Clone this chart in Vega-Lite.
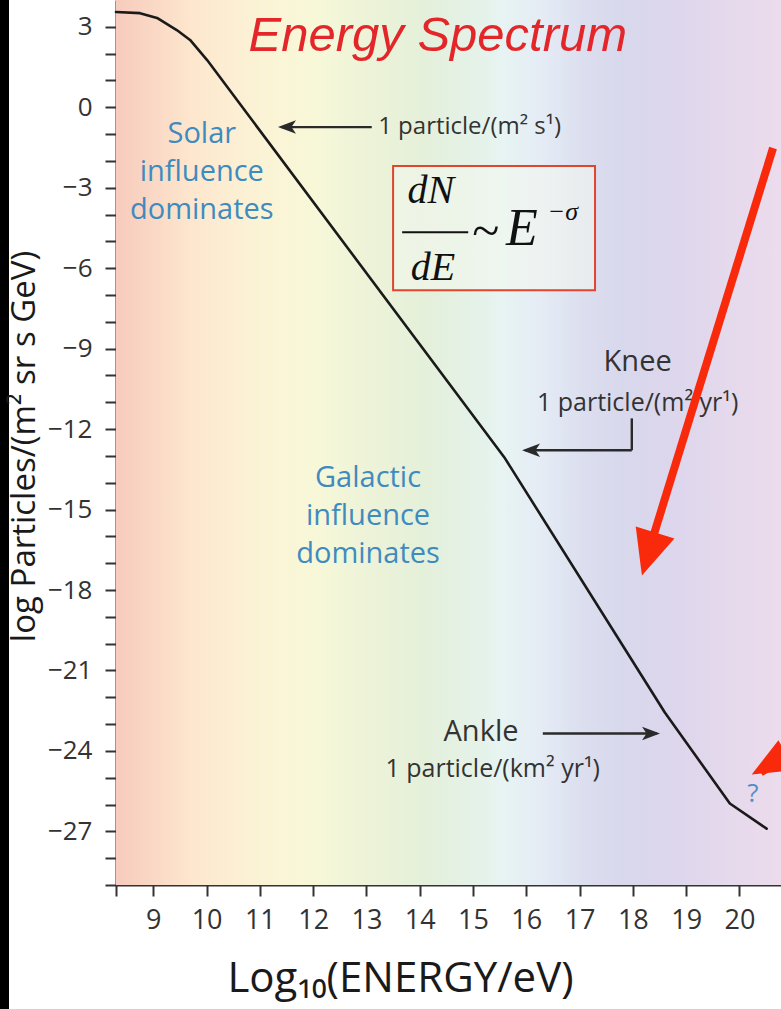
{
  "$schema": "https://vega.github.io/schema/vega-lite/v6.json",
  "autosize": {"type": "pad"},
  "padding": 0,
  "background": "white",
  "spacing": 107,
  "bounds": "flush",
  "config": {"view": {"stroke": null}, "font": "Open Sans"},
  "datasets": {
    "spectrum": [
      {"x": 8.3, "y": 3.55}, {"x": 8.75, "y": 3.51}, {"x": 9.07, "y": 3.33},
      {"x": 9.44, "y": 2.88}, {"x": 9.69, "y": 2.51}, {"x": 10.01, "y": 1.76},
      {"x": 15.6, "y": -13.09}, {"x": 18.6, "y": -22.57}, {"x": 19.82, "y": -25.96},
      {"x": 20.51, "y": -26.9}
    ],
    "pointers": [
      {"x": 13.1, "y": -0.74, "x2": 11.4, "y2": -0.74},
      {"x": 17.98, "y": -11.6, "x2": 17.98, "y2": -12.79},
      {"x": 17.98, "y": -12.79, "x2": 15.98, "y2": -12.79},
      {"x": 16.31, "y": -23.35, "x2": 18.45, "y2": -23.35}
    ],
    "headsLeft": [{"x": 11.34, "y": -0.74}, {"x": 15.92, "y": -12.79}],
    "headsRight": [{"x": 18.51, "y": -23.35}],
    "formulaBox": [{"x": 13.5, "x2": 17.29, "y": -2.19, "y2": -6.82}],
    "fractionBar": [{"x": 13.67, "x2": 14.91, "y": -4.66}],
    "redShafts": [
      {"x": 20.63, "y": -1.52, "x2": 18.36, "y2": -16.15},
      {"x": 21.2, "y": -23.9, "x2": 20.4, "y2": -24.8}
    ]
  },
  "hconcat": [
    {
      "width": 9,
      "height": 1009,
      "data": {"values": [{}]},
      "mark": {"type": "rect", "color": "#000000"},
      "encoding": {
        "x": {"value": 0},
        "x2": {"value": "width"},
        "y": {"value": 0},
        "y2": {"value": "height"}
      }
    },
    {
      "width": 665,
      "height": 885,
      "encoding": {
        "x": {
          "field": "x",
          "type": "quantitative",
          "scale": {"domain": [8.3, 20.78], "nice": false, "zero": false},
          "axis": {
            "title": "Log₁₀(ENERGY/eV)",
            "values": [8.3, 9, 10, 11, 12, 13, 14, 15, 16, 17, 18, 19, 20],
            "labelExpr": "datum.value < 8.5 ? '' : datum.label",
            "format": "d",
            "grid": false,
            "domainColor": "#333333",
            "domainWidth": 2,
            "tickColor": "#333333",
            "tickWidth": 2,
            "tickSize": 11,
            "labelFont": "Open Sans",
            "labelFontSize": 27,
            "labelColor": "#333333",
            "labelPadding": 11,
            "labelFlush": false,
            "labelOverlap": false,
            "titleFont": "Open Sans",
            "titleFontSize": 42,
            "titleFontWeight": "normal",
            "titleColor": "#1a1a1a",
            "titleX": 284,
            "titleY": 106,
            "titleAlign": "center",
            "titleBaseline": "alphabetic"
          }
        },
        "y": {
          "field": "y",
          "type": "quantitative",
          "scale": {"domain": [-29, 4], "nice": false, "zero": false},
          "axis": {
            "title": "log Particles/(m² sr s GeV)",
            "values": [-29, -28, -27, -26, -25, -24, -23, -22, -21, -20, -19, -18, -17, -16, -15, -14, -13, -12, -11, -10, -9, -8, -7, -6, -5, -4, -3, -2, -1, 0, 1, 2, 3],
            "labelExpr": "datum.value % 3 === 0 ? datum.label : ''",
            "format": "d",
            "grid": false,
            "domainColor": "#333333",
            "domainWidth": 2,
            "tickColor": "#333333",
            "tickWidth": 2,
            "tickSize": 11,
            "labelFont": "Open Sans",
            "labelFontSize": 26,
            "labelColor": "#333333",
            "labelPadding": 13,
            "labelFlush": false,
            "labelOverlap": false,
            "titleFont": "Open Sans",
            "titleFontSize": 33,
            "titleFontWeight": "normal",
            "titleColor": "#1a1a1a",
            "titleX": -92,
            "titleY": 446,
            "titleAngle": 270,
            "titleAlign": "center",
            "titleBaseline": "middle"
          }
        }
      },
      "layer": [
        {
          "data": {"values": [{}]},
          "mark": {
            "type": "rect",
            "color": {
              "gradient": "linear",
              "x1": 0, "y1": 0, "x2": 1, "y2": 0,
              "stops": [
                {"offset": 0, "color": "#f7cbbd"},
                {"offset": 0.06, "color": "#fad9c6"},
                {"offset": 0.11, "color": "#fde6cd"},
                {"offset": 0.18, "color": "#fcefd3"},
                {"offset": 0.24, "color": "#faf5d6"},
                {"offset": 0.3, "color": "#f7f8d8"},
                {"offset": 0.38, "color": "#edf3d8"},
                {"offset": 0.46, "color": "#e5f0da"},
                {"offset": 0.54, "color": "#e4f2e8"},
                {"offset": 0.58, "color": "#e7f4f2"},
                {"offset": 0.64, "color": "#e5ecf5"},
                {"offset": 0.7, "color": "#dcdfef"},
                {"offset": 0.76, "color": "#d8d8ec"},
                {"offset": 0.84, "color": "#ddd6ec"},
                {"offset": 0.92, "color": "#e5d9ec"},
                {"offset": 1, "color": "#ecdcec"}
              ]
            }
          },
          "encoding": {
            "x": {"value": 0},
            "x2": {"value": "width"},
            "y": {"value": 0},
            "y2": {"value": "height"}
          }
        },
        {
          "data": {"name": "formulaBox"},
          "mark": {"type": "rect", "fill": "#f4f7ee", "fillOpacity": 0.55, "stroke": "#e0452e", "strokeWidth": 2},
          "encoding": {"x2": {"field": "x2"}, "y2": {"field": "y2"}}
        },
        {
          "data": {"name": "fractionBar"},
          "mark": {"type": "rule", "color": "#111111", "strokeWidth": 2},
          "encoding": {"x2": {"field": "x2"}}
        },
        {
          "data": {"name": "spectrum"},
          "mark": {"type": "line", "color": "#1a1a1a", "strokeWidth": 2.6, "strokeJoin": "round", "strokeCap": "round"},
          "encoding": {}
        },
        {
          "data": {"name": "pointers"},
          "mark": {"type": "rule", "color": "#2a2a2a", "strokeWidth": 2.4},
          "encoding": {"x2": {"field": "x2"}, "y2": {"field": "y2"}}
        },
        {
          "data": {"name": "headsLeft"},
          "mark": {"type": "point", "shape": "M0,0L2,-0.75L1.5,0L2,0.75Z", "size": 324, "filled": true, "color": "#2a2a2a", "opacity": 1},
          "encoding": {}
        },
        {
          "data": {"name": "headsRight"},
          "mark": {"type": "point", "shape": "M0,0L-2,-0.75L-1.5,0L-2,0.75Z", "size": 324, "filled": true, "color": "#2a2a2a", "opacity": 1},
          "encoding": {}
        },
        {
          "data": {"values": [{"x": 14.34, "y": 2.1, "text": "Energy Spectrum"}]},
          "mark": {"type": "text", "font": "Liberation Sans", "fontStyle": "italic", "fontSize": 49, "color": "#e3262a", "align": "center", "baseline": "alphabetic"},
          "encoding": {"text": {"field": "text"}}
        },
        {
          "data": {"values": [
            {"x": 9.91, "y": -1.0, "text": "Solar\ninfluence\ndominates"},
            {"x": 13.03, "y": -13.84, "text": "Galactic\ninfluence\ndominates"}
          ]},
          "mark": {"type": "text", "font": "Open Sans", "fontSize": 29, "lineHeight": 38, "lineBreak": "\n", "color": "#3f8bbf", "align": "center", "baseline": "middle"},
          "encoding": {"text": {"field": "text"}}
        },
        {
          "data": {"values": [{"x": 20.25, "y": -25.59, "text": "?"}]},
          "mark": {"type": "text", "font": "Open Sans", "fontSize": 26, "color": "#4f8fca", "align": "center", "baseline": "middle"},
          "encoding": {"text": {"field": "text"}}
        },
        {
          "data": {"values": [{"x": 13.22, "y": -0.74, "text": "1 particle/(m² s¹)"}]},
          "mark": {"type": "text", "font": "Open Sans", "fontSize": 24, "color": "#333333", "align": "left", "baseline": "middle"},
          "encoding": {"text": {"field": "text"}}
        },
        {
          "data": {"values": [
            {"x": 18.09, "y": -9.51, "text": "Knee"},
            {"x": 15.15, "y": -23.31, "text": "Ankle"}
          ]},
          "mark": {"type": "text", "font": "Open Sans", "fontSize": 29, "color": "#333333", "align": "center", "baseline": "middle"},
          "encoding": {"text": {"field": "text"}}
        },
        {
          "data": {"values": [
            {"x": 18.09, "y": -11.04, "text": "1 particle/(m² yr¹)"},
            {"x": 15.37, "y": -24.69, "text": "1 particle/(km² yr¹)"}
          ]},
          "mark": {"type": "text", "font": "Open Sans", "fontSize": 25, "color": "#333333", "align": "center", "baseline": "middle"},
          "encoding": {"text": {"field": "text"}}
        },
        {
          "data": {"values": [
            {"x": 14.21, "y": -3.57, "text": "dN"},
            {"x": 14.25, "y": -6.45, "text": "dE"}
          ]},
          "mark": {"type": "text", "font": "Liberation Serif", "fontStyle": "italic", "fontSize": 40, "color": "#111111", "align": "center", "baseline": "alphabetic"},
          "encoding": {"text": {"field": "text"}}
        },
        {
          "data": {"values": [{"x": 15.24, "y": -4.66, "text": "~"}]},
          "mark": {"type": "text", "font": "Liberation Serif", "fontSize": 50, "color": "#111111", "align": "center", "baseline": "middle"},
          "encoding": {"text": {"field": "text"}}
        },
        {
          "data": {"values": [{"x": 15.62, "y": -5.14, "text": "E"}]},
          "mark": {"type": "text", "font": "Liberation Serif", "fontStyle": "italic", "fontSize": 52, "color": "#111111", "align": "left", "baseline": "alphabetic"},
          "encoding": {"text": {"field": "text"}}
        },
        {
          "data": {"values": [{"x": 16.4, "y": -3.9, "text": "−σ"}]},
          "mark": {"type": "text", "font": "Liberation Serif", "fontStyle": "italic", "fontSize": 26, "color": "#111111", "align": "left", "baseline": "middle"},
          "encoding": {"text": {"field": "text"}}
        },
        {
          "data": {"name": "redShafts"},
          "mark": {"type": "rule", "color": "#f92a0c", "strokeWidth": 8, "clip": true},
          "encoding": {"x2": {"field": "x2"}, "y2": {"field": "y2"}}
        },
        {
          "data": {"values": [{"x": 18.17, "y": -17.46}]},
          "mark": {"type": "point", "shape": "M0,0L-0.9,2L0.9,2Z", "size": 2025, "filled": true, "color": "#f92a0c", "opacity": 1, "angle": 197, "clip": true},
          "encoding": {}
        },
        {
          "data": {"values": [{"x": 20.23, "y": -24.88}]},
          "mark": {"type": "point", "shape": "M0,0L-0.85,2L0.85,2Z", "size": 1600, "filled": true, "color": "#f92a0c", "opacity": 1, "angle": 241, "clip": true},
          "encoding": {}
        }
      ]
    }
  ]
}
